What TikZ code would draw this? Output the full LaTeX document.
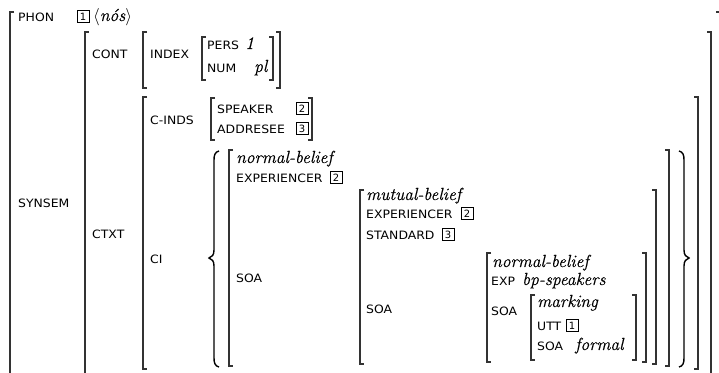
\documentclass[tikz,border=0pt]{standalone}
\usepackage{fontspec}
\newfontfamily\labfamily[FakeStretch=1.08]{DejaVu Sans}
\newfontfamily\tagfamily{DejaVu Sans}
\newfontfamily\valfamily[FakeBold=0.4]{Latin Modern Roman}
\tikzset{
 lab/.style={anchor=base west, inner sep=0pt, font=\labfamily\fontsize{11.5}{12}\selectfont},
 val/.style={anchor=base west, inner sep=0pt, font=\valfamily\fontsize{17.5}{20}\selectfont\itshape},
 tagbox/.style={draw, line width=0.7pt, inner sep=0pt, minimum width=11.5pt, minimum height=12pt, font=\tagfamily\fontsize{10}{10}\selectfont, anchor=south west},
 brk/.style={line width=1.2pt, draw=black!80},
 brc/.style={line width=1.4pt, draw=black},
}
\newcommand\lbrk[3]{\draw[brk] ({#1+4},{#2}) -- ({#1},{#2}) -- ({#1},{#3}) -- ({#1+4},{#3});}
\newcommand\rbrk[3]{\draw[brk] ({#1-4},{#2}) -- ({#1},{#2}) -- ({#1},{#3}) -- ({#1-4},{#3});}
\begin{document}
\begin{tikzpicture}[x=1pt,y=-1pt]
\useasboundingbox (0,0) rectangle (719,372);
\clip (0,0) rectangle (719,372);
% outer AVM
\lbrk{10}{12}{390}
\rbrk{720}{12}{390}
% SYNSEM value
\lbrk{85}{32}{390}
\rbrk{711}{32}{390}
% CONT value
\lbrk{143}{32}{88}
\rbrk{280}{32}{88}
% INDEX value
\lbrk{202}{37}{80}
\rbrk{273}{37}{80}
% CTXT value
\lbrk{143}{97}{369}
\rbrk{698}{97}{369}
% C-INDS value
\lbrk{211}{98}{140}
\rbrk{312}{98}{140}
% CI set braces
\draw[brc] (219,151) .. controls (215,152) and (214,155) .. (214,160) -- (214,250) .. controls (214,255) and (212,257) .. (209,258) .. controls (212,259) and (214,261) .. (214,266) -- (214,358) .. controls (214,363) and (215,366) .. (219,367);
\draw[brc] (679,151) .. controls (683,152) and (684,155) .. (684,160) -- (684,250) .. controls (684,255) and (686,257) .. (689,258) .. controls (686,259) and (684,261) .. (684,266) -- (684,358) .. controls (684,363) and (683,366) .. (679,367);
% normal-belief (outer)
\lbrk{229}{150}{366}
\rbrk{669}{150}{366}
% mutual-belief
\lbrk{360}{190}{364}
\rbrk{656}{190}{364}
% normal-belief (inner)
\lbrk{487}{253}{362}
\rbrk{646}{253}{362}
% marking
\lbrk{531}{295}{360}
\rbrk{636}{295}{360}

\node[lab] (phon) at (18,21) {PHON};
\node[tagbox] (t1) at (77,23) {1};
\node[val] (nos) at (93,21) {$\langle$nós$\rangle$};
\node[lab] (synsem) at (18,207) {SYNSEM};
\node[lab] (cont) at (92,58) {CONT};
\node[lab] (index) at (150,58) {INDEX};
\node[lab] (pers) at (207,49) {PERS};
\node[val] (persv) at (245,49) {1};
\node[lab] (num) at (207,72) {NUM};
\node[val] (numv) at (254,72) {pl};
\node[lab] (ctxt) at (92,238) {CTXT};
\node[lab] (cinds) at (150,124) {C-INDS};
\node[lab] (spk) at (217,113) {SPEAKER};
\node[tagbox] (t2a) at (296,115) {2};
\node[lab] (addr) at (217,133) {ADDRESEE};
\node[tagbox] (t3a) at (296,135) {3};
\node[lab] (ci) at (150,263) {CI};
\node[val] (nb1) at (236,163) {normal-belief};
\node[lab] (exp1) at (236,182) {EXPERIENCER};
\node[tagbox] (t2b) at (330,184) {2};
\node[lab] (soa1) at (236,282) {SOA};
\node[val] (mb) at (366,200) {mutual-belief};
\node[lab] (exp2) at (366,218) {EXPERIENCER};
\node[tagbox] (t2c) at (461,220) {2};
\node[lab] (std) at (366,239) {STANDARD};
\node[tagbox] (t3b) at (442,241) {3};
\node[lab] (soa2) at (366,313) {SOA};
\node[val] (nb2) at (492,267) {normal-belief};
\node[lab] (exp3) at (491,285) {EXP};
\node[val] (bps) at (522,285) {bp-speakers};
\node[lab] (soa3) at (491,315) {SOA};
\node[val] (mk) at (537,307) {marking};
\node[lab] (utt) at (537,330) {UTT};
\node[tagbox] (t1b) at (566,332) {1};
\node[lab] (soa4) at (537,350) {SOA};
\node[val] (fm) at (575,350) {formal};
\end{tikzpicture}
\end{document}
